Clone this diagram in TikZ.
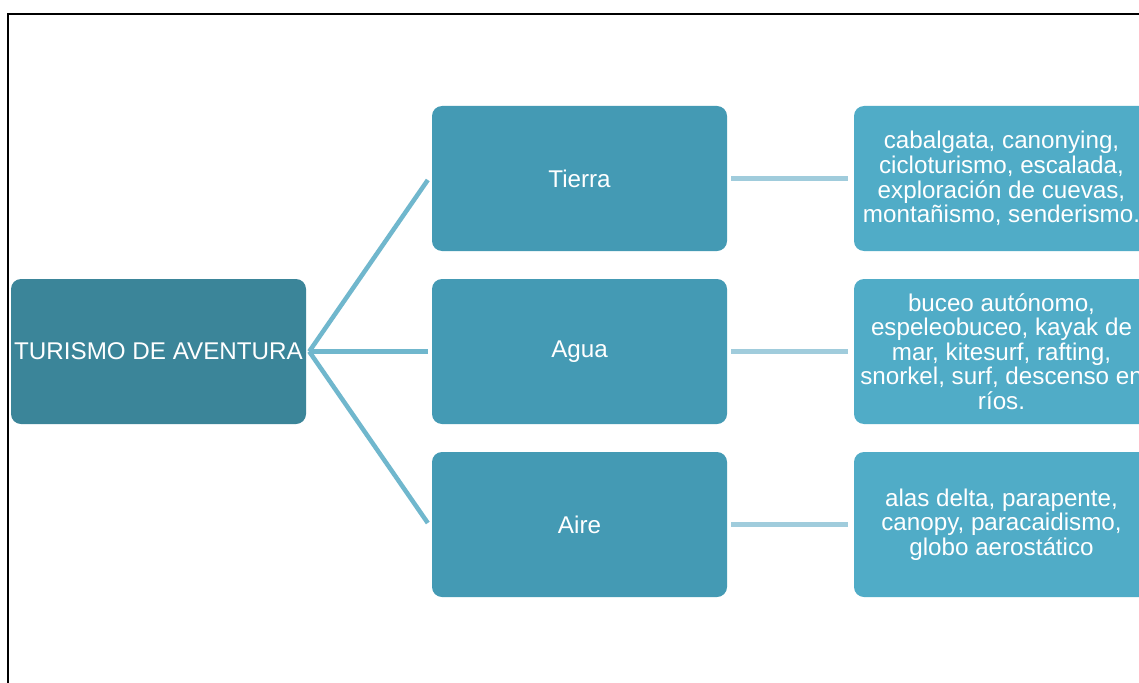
\documentclass[tikz,border=0pt]{standalone}
\usepackage{fontspec}
\setmainfont{Liberation Sans}
\definecolor{rootc}{RGB}{59,133,153}
\definecolor{midc}{RGB}{68,154,180}
\definecolor{leafc}{RGB}{80,172,199}
\definecolor{linkA}{RGB}{112,183,205}
\definecolor{linkB}{RGB}{160,204,220}
\tikzset{
  boxbase/.style={rounded corners=10pt, minimum width=295pt, minimum height=145pt,
    text=white, align=center, inner sep=0pt,
    font=\fontsize{24.2}{24.6}\selectfont},
  rootbox/.style={boxbase, fill=rootc},
  midbox/.style={boxbase, fill=midc},
  leafbox/.style={boxbase, fill=leafc},
  linkone/.style={draw=linkA, line width=4.5pt},
  linktwo/.style={draw=linkB, line width=4.5pt},
}
\begin{document}
\begin{tikzpicture}[x=1pt,y=-1pt]
\useasboundingbox (0,0) rectangle (1139,682);
\clip (0,0) rectangle (1139,682);
\fill[white] (0,0) rectangle (1139,682);
\draw[black, line width=2.2pt] (8,700) -- (8,14) -- (1160,14);
\node[rootbox] (root) at (158.5,351.5) {TURISMO DE AVENTURA};
\node[midbox] (tierra) at (579.5,178.5) {Tierra};
\node[midbox] (agua) at (579.5,351.5) {Agua};
\node[midbox] (aire) at (579.5,524.5) {Aire};
\node[leafbox] (l1) at (1001.5,178.5) {cabalgata, canonying,\\cicloturismo, escalada,\\exploración de cuevas,\\montañismo, senderismo.};
\node[leafbox] (l2) at (1001.5,351.5) {buceo autónomo,\\espeleobuceo, kayak de\\mar, kitesurf, rafting,\\snorkel, surf, descenso en\\ríos.};
\node[leafbox] (l3) at (1001.5,524.5) {alas delta, parapente,\\canopy, paracaidismo,\\globo aerostático};
\coordinate (hub) at ([xshift=3pt]root.east);
\draw[linkone] (hub) -- ([xshift=-4pt,yshift=-1.5pt]tierra.west);
\draw[linkone] (hub) -- ([xshift=-4pt]agua.west);
\draw[linkone] (hub) -- ([xshift=-4pt,yshift=1.5pt]aire.west);
\draw[linktwo] ([xshift=4pt]tierra.east) -- ([xshift=-6pt]l1.west);
\draw[linktwo] ([xshift=4pt]agua.east) -- ([xshift=-6pt]l2.west);
\draw[linktwo] ([xshift=4pt]aire.east) -- ([xshift=-6pt]l3.west);
\end{tikzpicture}
\end{document}
